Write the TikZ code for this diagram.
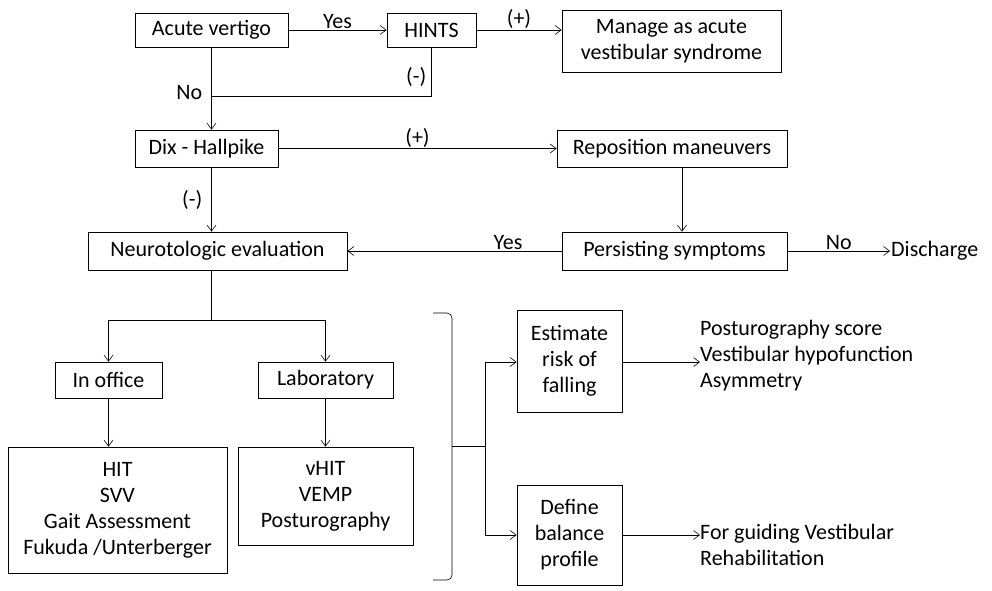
\documentclass[tikz,border=0pt]{standalone}
\usepackage{fontspec}
\setmainfont{Carlito}
\usetikzlibrary{arrows.meta}
\begin{document}
\begin{tikzpicture}[x=1pt,y=-1pt,
  box/.style={draw,thick,inner sep=0pt,align=center,font=\fontsize{22}{26}\selectfont},
  lbl/.style={font=\fontsize{22}{26}\selectfont,inner sep=1pt},
  txt/.style={font=\fontsize{22}{26}\selectfont,align=left,anchor=west,inner sep=0pt},
  arr/.style={-{Straight Barb[length=6pt,width=9pt]},semithick},
  ln/.style={semithick}]
\useasboundingbox (0,0) rectangle (992,590);
\node[box,minimum width=153,minimum height=34] (av) at (211.5,30) {Acute vertigo};
\node[box,minimum width=89,minimum height=34] (hints) at (431.5,30) {HINTS};
\node[box,minimum width=219,minimum height=62] (man) at (671.5,41) {Manage as acute\\vestibular syndrome};
\node[box,minimum width=143,minimum height=37] (dix) at (206.5,148.5) {Dix - Hallpike};
\node[box,minimum width=230,minimum height=37] (rep) at (672,148.5) {Reposition maneuvers};
\node[box,minimum width=225,minimum height=38] (per) at (674.5,251) {Persisting symptoms};
\node[box,minimum width=259,minimum height=38] (neu) at (217.5,251) {Neurotologic evaluation};
\node[lbl,anchor=west] (dis) at (890,251) {Discharge};
\node[box,minimum width=107,minimum height=36] (off) at (108.5,380) {In office};
\node[box,minimum width=135,minimum height=36] (lab) at (325.5,380) {Laboratory};
\node[box,minimum width=219,minimum height=126] (hit) at (117.5,510) {HIT\\SVV\\Gait Assessment\\Fukuda /Unterberger};
\node[box,minimum width=175,minimum height=98] (vhit) at (325.5,496) {vHIT\\VEMP\\Posturography};
\node[box,minimum width=105,minimum height=102] (est) at (569.5,361) {Estimate\\risk of\\falling};
\node[box,minimum width=105,minimum height=100] (def) at (569.5,535) {Define\\balance\\profile};
\node[txt] (t1) at (700,356) {Posturography score\\Vestibular hypofunction\\Asymmetry};
\node[txt] (t2) at (700,545) {For guiding Vestibular\\Rehabilitation};
\coordinate (t1a) at (700,362);
\coordinate (t2a) at (700,535);
\draw[arr] (av) -- node[lbl,above]{Yes} (hints);
\draw[arr] (hints.east) -- node[lbl,above]{(+)} (man.west|-hints.east);
\draw[arr] (av) -- node[lbl,pos=0.55,left=8pt]{No} (dix.north-|av);
\draw[ln] (hints.south) -- node[lbl,left=4pt,pos=0.6]{(-)} (hints.south|-0,96) -- (211.5,96);
\draw[arr] (dix) -- node[lbl,above]{(+)} (rep);
\draw[arr] (rep.south-|per) ++(7.5,0) coordinate (q) -- (q|-per.north);
\draw[arr] (dix.south-|av) -- node[lbl,left=8pt]{(-)} (neu.north-|av);
\draw[arr] (per) -- node[lbl,above,pos=0.25]{Yes} (neu);
\draw[arr] (per) -- node[lbl,above]{No} (dis);
\draw[ln] (neu.south-|av) -- (211.5,320);
\draw[ln] (108.5,320) -- (325.5,320);
\draw[arr] (108.5,320) -- (off);
\draw[arr] (325.5,320) -- (lab);
\draw[arr] (off) -- (off|-hit.north);
\draw[arr] (lab) -- (vhit);
\draw[ln,rounded corners=5pt] (433,313) -- (452,313) -- (452,580) -- (433,580);
\draw[ln] (452,446) -- (485,446);
\draw[ln] (485,362) -- (485,535);
\draw[arr] (485,362) -- (est.west|-0,362);
\draw[arr] (485,535) -- (def);
\draw[arr] (est.east|-0,362) -- (t1a);
\draw[arr] (def) -- (t2a);
\end{tikzpicture}
\end{document}
